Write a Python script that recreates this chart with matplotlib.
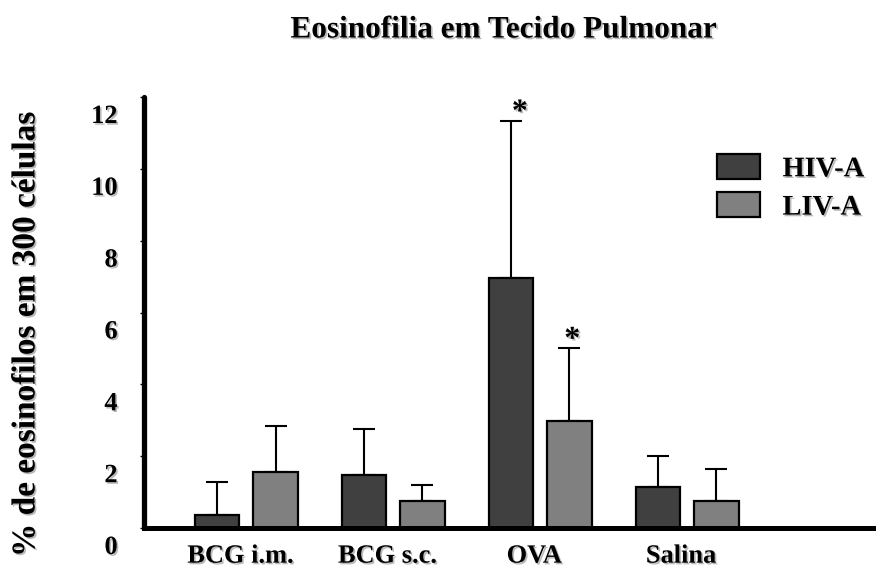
import numpy as np
import matplotlib.pyplot as plt
import matplotlib.patheffects as pe
from matplotlib.transforms import ScaledTranslation

plt.rcParams['font.family'] = ['Liberation Serif', 'DejaVu Serif']
plt.rcParams['font.weight'] = 'bold'

# data
grupos = ['BCG i.m.', 'BCG s.c.', 'OVA', 'Salina']
hiv_a = [0.36, 1.48, 6.96, 1.14]
hiv_a_err = [0.91, 1.29, 4.37, 0.86]
liv_a = [1.55, 0.76, 2.99, 0.76]
liv_a_err = [1.28, 0.44, 2.01, 0.89]
signif_hiv = [False, False, True, False]
signif_liv = [False, False, True, False]
yticks = [0, 2, 4, 6, 8, 10, 12]

shadow = [pe.withSimplePatchShadow(offset=(1.2, -1.2), shadow_rgbFace='0.55', alpha=0.6)]

fig = plt.figure(figsize=(8.76, 5.73), dpi=100)
ax = fig.add_axes([144/876, 1-528/573, 1-144/876, (528-97)/573])

x = np.arange(len(grupos))
w = 0.303
d = 0.1985

ax.bar(x - d, hiv_a, w, color='#404040', edgecolor='black', linewidth=1.6,
       label='HIV-A', zorder=2)
ax.bar(x + d, liv_a, w, color='#808080', edgecolor='black', linewidth=1.6,
       label='LIV-A', zorder=2)
ax.errorbar(x - d, hiv_a, yerr=[np.zeros(4), hiv_a_err], fmt='none',
            ecolor='black', elinewidth=1.5, capsize=8, capthick=1.5, zorder=1)
ax.errorbar(x + d, liv_a, yerr=[np.zeros(4), liv_a_err], fmt='none',
            ecolor='black', elinewidth=1.5, capsize=8, capthick=1.5, zorder=1)

# asterisks
for i in range(len(grupos)):
    if signif_hiv[i]:
        ax.text(x[i] - d + 0.06, hiv_a[i] + hiv_a_err[i] - 0.18, '*', fontsize=23,
                ha='center', va='bottom', path_effects=shadow)
    if signif_liv[i]:
        ax.text(x[i] + d + 0.02, liv_a[i] + liv_a_err[i] - 0.18, '*', fontsize=23,
                ha='center', va='bottom', path_effects=shadow)

ax.set_xlim(-0.697, 4.286)
ax.set_ylim(0, 12)
ax.set_yticks(yticks)
ax.set_yticklabels([str(t) for t in yticks], fontsize=19, fontweight='bold')
ax.set_xticks(x)
ax.set_xticklabels(grupos, fontsize=19, fontweight='bold')

ax.spines['top'].set_visible(False)
ax.spines['right'].set_visible(False)
ax.spines['left'].set_linewidth(3.8)
ax.spines['bottom'].set_linewidth(3.6)
ax.spines['left'].set_capstyle('round')
ax.tick_params(axis='y', direction='out', length=3, width=1, pad=16)
ax.tick_params(axis='x', length=0, pad=12)

off = ScaledTranslation(0, -0.17, fig.dpi_scale_trans)
for lab in ax.get_yticklabels():
    lab.set_transform(lab.get_transform() + off)
    lab.set_path_effects(shadow)
offx = ScaledTranslation(-0.06, 0, fig.dpi_scale_trans)
for lab in ax.get_xticklabels():
    lab.set_transform(lab.get_transform() + offx)
    lab.set_path_effects(shadow)

ax.set_ylabel('% de eosinofilos em 300 células', fontsize=24, fontweight='bold',
              path_effects=shadow)
ax.yaxis.set_label_coords(-0.14, 0.45)

fig.text(504/876, 1-30/573, 'Eosinofilia em Tecido Pulmonar', fontsize=22.5,
         fontweight='bold', ha='center', va='center', path_effects=shadow)

leg = ax.legend(loc='upper left', bbox_to_anchor=((717-144)/732, (528-154)/431),
                frameon=False, fontsize=20.5, handlelength=1.5, handleheight=0.98,
                handletextpad=0.8, labelspacing=0.35, borderpad=0, borderaxespad=0)
for t in leg.get_texts():
    t.set_path_effects(shadow)

fig.savefig('out.png', dpi=100)
